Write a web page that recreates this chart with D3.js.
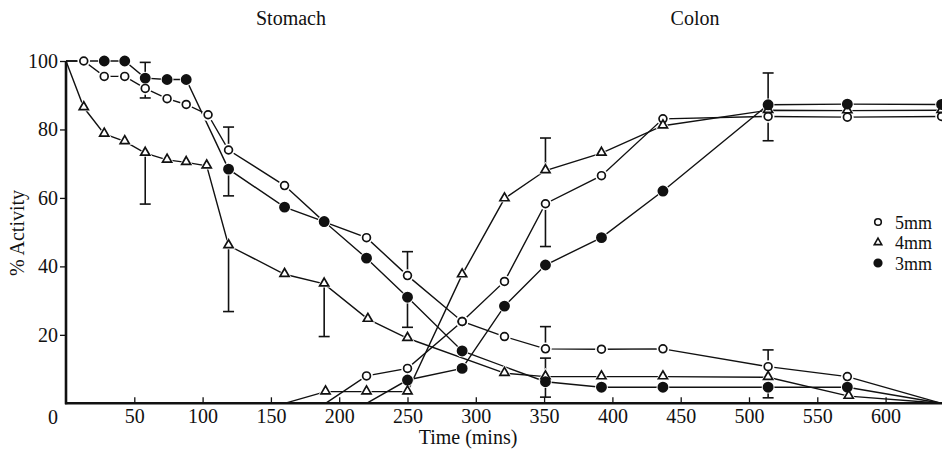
<!DOCTYPE html>
<html>
<head>
<meta charset="utf-8">
<script src="https://cdn.jsdelivr.net/npm/d3@7"></script>
<style>
  body { margin: 0; background: #fff; }
  svg { display: block; }
  text { font-family: "Liberation Serif", "Times New Roman", serif; fill: #111; }
</style>
</head>
<body>
<div id="chart"></div>
<script>
// time points (mins) and % activity
const stomach5T = [0, 13, 28, 43, 58, 74, 88, 104, 119, 160, 189, 220, 250, 290, 321, 351, 392, 437, 514, 572, 641]
const stomach5V = [100, 100, 95.5, 95.5, 92, 89, 87.3, 84.3, 74, 63.6, 53, 48.4, 37.3, 23.9, 19.5, 15.9, 15.8, 15.9, 10.7, 7.8, 0]

const stomach4T = [0, 13, 28, 43, 58, 74, 88, 103, 119, 160, 189, 221, 250, 321, 351, 392, 437, 514, 573, 641]
const stomach4V = [100, 86.4, 78.7, 76.5, 73.1, 71.1, 70.4, 69.4, 46.1, 37.7, 34.9, 24.6, 19, 8.8, 7.8, 7.8, 7.8, 7.6, 2.1, 0]

const stomach3T = [0, 28, 43, 58, 74, 88, 119, 160, 189, 220, 250, 290, 351, 392, 437, 514, 572, 641]
const stomach3V = [100, 100, 100, 95, 94.6, 94.6, 68.4, 57.3, 53.1, 42.4, 31, 15.3, 6.3, 4.7, 4.7, 4.7, 4.7, 0]

const colon5T = [190, 220, 250, 290, 321, 351, 392, 437, 514, 572, 641]
const colon5V = [0, 8, 10.2, 23.9, 35.6, 58.3, 66.5, 83.1, 83.8, 83.6, 83.8]

const colon4T = [160, 190, 220, 250, 290, 321, 351, 392, 437, 514, 572, 641]
const colon4V = [0, 3.4, 3.4, 3.4, 37.6, 59.8, 68, 73.1, 81.1, 85.6, 85.5, 85.6]

const colon3T = [220, 250, 290, 321, 351, 392, 437, 514, 572, 641]
const colon3V = [0, 6.8, 10.2, 28.4, 40.4, 48.4, 62, 87.2, 87.4, 87.3]

// error bars: time, low end, high end
const errT = [58, 58, 119, 119, 119, 189, 250, 250, 351, 351, 351, 351, 514, 514, 514]
const errLo = [89.2, 58.2, 74, 60.6, 26.8, 19.5, 37.3, 22.2, 68, 45.8, 15.9, 1.8, 76.7, 10.7, 1.6]
const errHi = [99.6, 73.1, 80.7, 68.4, 46.1, 34.9, 44.3, 31, 77.5, 58.3, 22.4, 13.2, 96.5, 15.6, 4.7]
const errCapTop = [true, false, true, false, false, false, true, false, true, false, true, true, true, true, false]
const errCapBot = [true, true, false, true, true, true, false, true, false, true, false, true, true, false, true]

const xTicks = [50, 100, 150, 200, 250, 300, 350, 400, 450, 500, 550, 600]
const yTicks = [20, 40, 60, 80, 100]
const legendLabels = ["5mm", "4mm", "3mm"]
const legendKinds = ["open", "tri", "filled"]

const width = 942
const height = 456

const x = d3.scaleLinear().domain([0, 641]).range([66, 941.6])
const y = d3.scaleLinear().domain([0, 100]).range([403.3, 61])

const svg = d3.select("#chart").append("svg")
    .attr("width", width)
    .attr("height", height)

function zip(ts, vs) {
    return ts.map((t, i) => ({ t: t, v: vs[i] }))
}

const series = [
    { kind: "open", pts: zip(stomach5T, stomach5V) },
    { kind: "tri", pts: zip(stomach4T, stomach4V) },
    { kind: "filled", pts: zip(stomach3T, stomach3V) },
    { kind: "open", pts: zip(colon5T, colon5V) },
    { kind: "tri", pts: zip(colon4T, colon4V) },
    { kind: "filled", pts: zip(colon3T, colon3V) },
]

const line = d3.line().x(d => x(d.t)).y(d => y(d.v))

// lines
svg.append("g")
    .selectAll("path")
    .data(series)
    .join("path")
    .attr("d", d => line(d.pts))
    .attr("fill", "none")
    .attr("stroke", "#111")
    .attr("stroke-width", 1.4)

// error bars
const errs = errT.map((t, i) => ({ t: t, lo: errLo[i], hi: errHi[i], top: errCapTop[i], bot: errCapBot[i] }))
const eg = svg.append("g").attr("stroke", "#111").attr("stroke-width", 1.6)
eg.selectAll("line.bar")
    .data(errs)
    .join("line")
    .attr("class", "bar")
    .attr("x1", d => x(d.t)).attr("x2", d => x(d.t))
    .attr("y1", d => y(d.lo)).attr("y2", d => y(d.hi))
eg.selectAll("line.captop")
    .data(errs.filter(d => d.top))
    .join("line")
    .attr("class", "captop")
    .attr("x1", d => x(d.t) - 5.5).attr("x2", d => x(d.t) + 5.5)
    .attr("y1", d => y(d.hi)).attr("y2", d => y(d.hi))
eg.selectAll("line.capbot")
    .data(errs.filter(d => d.bot))
    .join("line")
    .attr("class", "capbot")
    .attr("x1", d => x(d.t) - 5.5).attr("x2", d => x(d.t) + 5.5)
    .attr("y1", d => y(d.lo)).attr("y2", d => y(d.lo))

// markers (skip the bare line ends sitting on the axes)
const markPts = []
series.forEach(s => {
    s.pts.forEach((p, i) => {
        if (p.v === 0) return
        if (p.t === 0) return
        markPts.push({ t: p.t, v: p.v, kind: s.kind })
    })
})

const tri = d3.symbol().type(d3.symbolTriangle).size(36)
const triHalo = d3.symbol().type(d3.symbolTriangle).size(90)

function drawMarker(sel, kind, halo) {
    if (kind === "tri") {
        sel.append("path").attr("d", halo ? triHalo() : tri())
            .attr("transform", "translate(0,-0.5)")
            .attr("fill", "#fff")
            .attr("stroke", halo ? "none" : "#111")
            .attr("stroke-width", 1.7)
    } else {
        sel.append("circle")
            .attr("r", halo ? 6.3 : (kind === "filled" ? 4.6 : 3.9))
            .attr("fill", halo ? "#fff" : (kind === "filled" ? "#111" : "#fff"))
            .attr("stroke", halo ? "none" : "#111")
            .attr("stroke-width", 1.7)
    }
}

const halos = svg.append("g")
markPts.forEach(p => {
    const g = halos.append("g").attr("transform", `translate(${x(p.t)},${y(p.v)})`)
    drawMarker(g, p.kind, true)
})
const marks = svg.append("g")
markPts.forEach(p => {
    const g = marks.append("g").attr("transform", `translate(${x(p.t)},${y(p.v)})`)
    drawMarker(g, p.kind, false)
})

// axes
const xAxis = d3.axisBottom(x).tickValues(xTicks).tickSize(-6).tickSizeOuter(0).tickPadding(6)
const gx = svg.append("g").attr("transform", `translate(0,${y(0)})`).call(xAxis)
gx.select(".domain").remove()
gx.selectAll(".tick line").attr("stroke", "#111").attr("stroke-width", 1.3)
gx.selectAll(".tick text").attr("font-size", 20).attr("font-family", "Liberation Serif")

const yAxis = d3.axisLeft(y).tickValues(yTicks).tickSize(6).tickSizeOuter(0).tickPadding(2)
const gy = svg.append("g").attr("transform", `translate(${x(0)},0)`).call(yAxis)
gy.select(".domain").remove()
gy.selectAll(".tick line").attr("stroke", "#111").attr("stroke-width", 1.3)
gy.selectAll(".tick text").attr("font-size", 20).attr("font-family", "Liberation Serif")

svg.append("line")
    .attr("x1", x(0) - 1).attr("x2", width)
    .attr("y1", y(0)).attr("y2", y(0))
    .attr("stroke", "#111").attr("stroke-width", 2.6)
svg.append("line")
    .attr("x1", x(0)).attr("x2", x(0))
    .attr("y1", y(100)).attr("y2", y(0) + 1)
    .attr("stroke", "#111").attr("stroke-width", 2.6)

// origin label
svg.append("text")
    .attr("x", 53).attr("y", y(0) + 6)
    .attr("dy", "0.71em")
    .attr("text-anchor", "middle")
    .attr("font-size", 20)
    .text("0")

// axis titles
svg.append("text")
    .attr("x", 468).attr("y", 444)
    .attr("text-anchor", "middle")
    .attr("font-size", 20)
    .text("Time (mins)")
svg.append("text")
    .attr("transform", "translate(24,233) rotate(-90)")
    .attr("text-anchor", "middle")
    .attr("font-size", 20)
    .text("% Activity")

// region labels
svg.append("text").attr("x", 291).attr("y", 25).attr("text-anchor", "middle").attr("font-size", 20).text("Stomach")
svg.append("text").attr("x", 695).attr("y", 25).attr("text-anchor", "middle").attr("font-size", 20).text("Colon")

// legend
const lg = svg.append("g").attr("transform", "translate(878,222)")
legendLabels.forEach((lab, i) => {
    const row = lg.append("g").attr("transform", `translate(0,${i * 20.5})`)
    if (legendKinds[i] === "tri") {
        row.append("path").attr("d", d3.symbol().type(d3.symbolTriangle).size(24)())
            .attr("fill", "#fff").attr("stroke", "#111").attr("stroke-width", 1.6)
    } else {
        row.append("circle").attr("r", legendKinds[i] === "filled" ? 3.8 : 3.3)
            .attr("fill", legendKinds[i] === "filled" ? "#111" : "#fff")
            .attr("stroke", "#111").attr("stroke-width", 1.6)
    }
    row.append("text").attr("x", 17).attr("y", 6.5).attr("font-size", 18).text(lab)
})
</script>
</body>
</html>
